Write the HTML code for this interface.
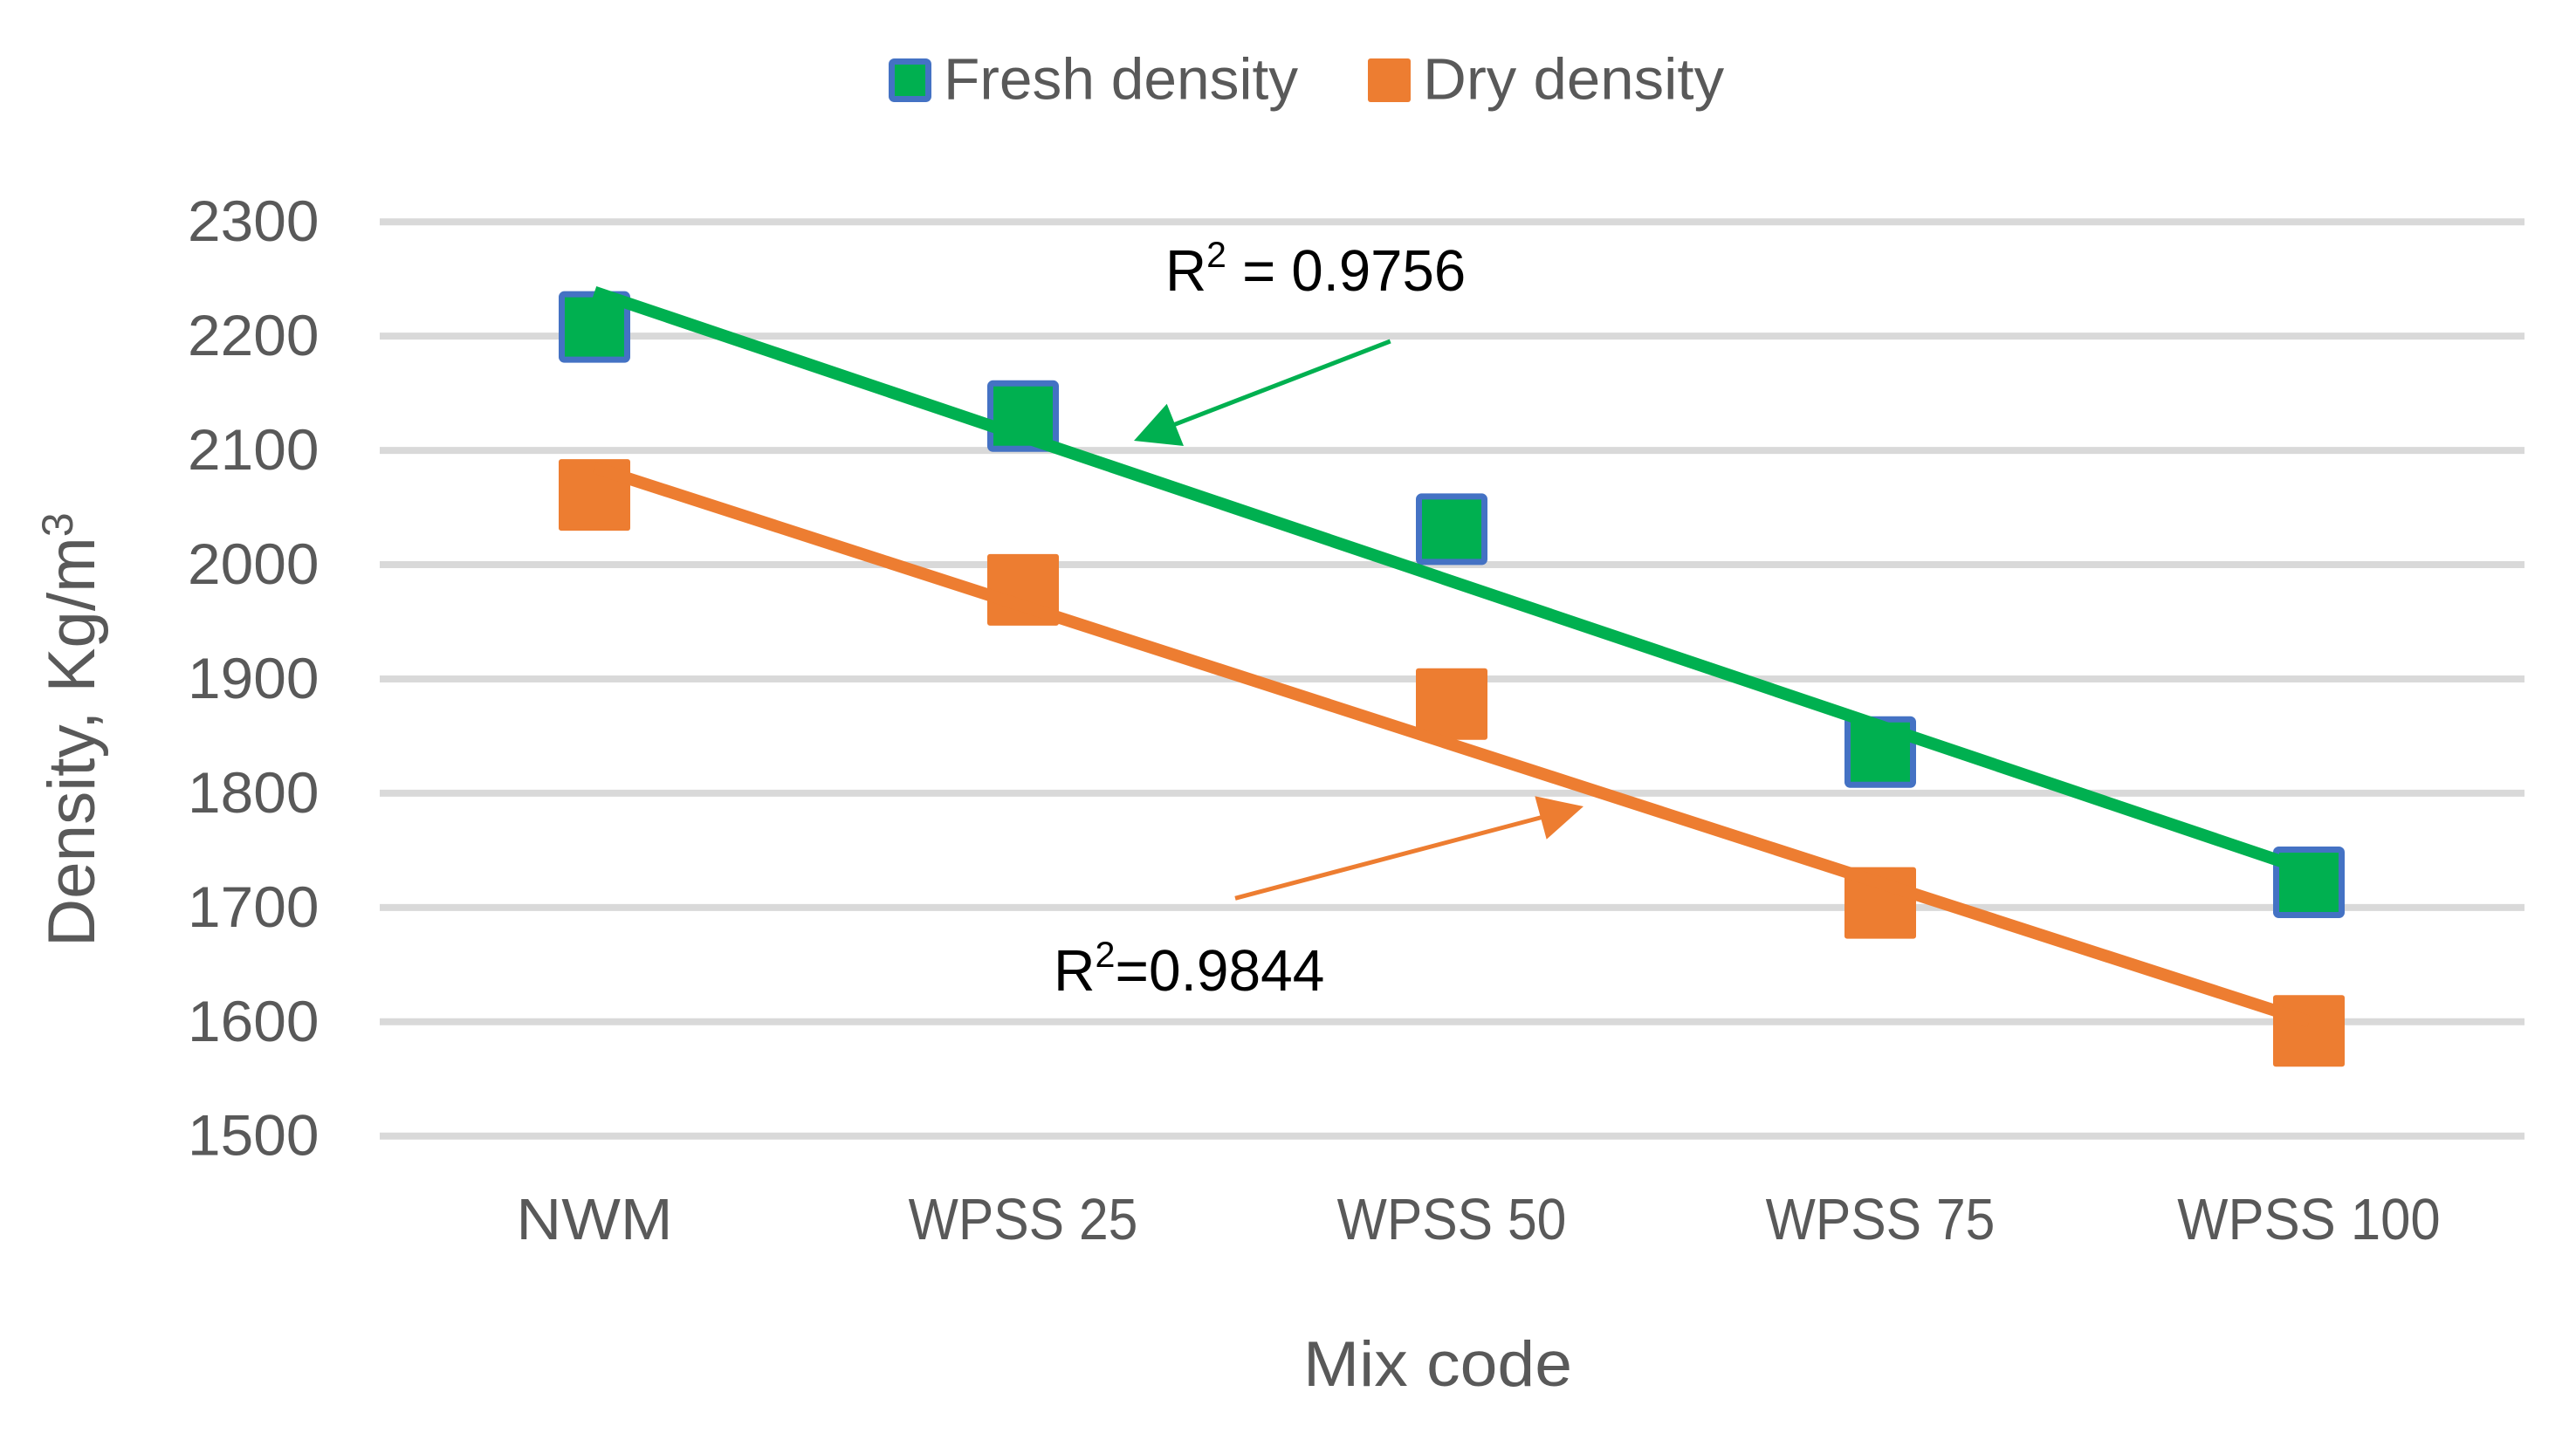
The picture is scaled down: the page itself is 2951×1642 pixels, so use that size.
<!DOCTYPE html>
<html lang="en">
<head>
<meta charset="utf-8">
<title>Density by mix code</title>
<style>
  html, body { margin: 0; padding: 0; background: #ffffff; }
  svg { display: block; }
  text { font-family: "Liberation Sans", sans-serif; }
</style>
</head>
<body>
<svg id="chart" xmlns="http://www.w3.org/2000/svg" width="2951" height="1642" viewBox="0 0 2951 1642">
  <rect x="0" y="0" width="2951" height="1642" fill="#ffffff"/>
  <g id="grid"></g>
  <g id="yticks"></g>
  <g id="xticks"></g>
  <g id="marks"></g>

  <g>
    <g>
      <rect x="1021.5" y="70.5" width="42" height="43" rx="3" fill="#00B050" stroke="#4472C4" stroke-width="7"/>
      <text transform="translate(1081 113.5) scale(1.01 1)" font-size="67" fill="#595959">Fresh density</text>
    </g>
    <g>
      <rect x="1567" y="67" width="49" height="50" rx="3" fill="#ED7D31"/>
      <text transform="translate(1630 113.5) scale(1.03 1)" font-size="67" fill="#595959">Dry density</text>
    </g>
  </g>

  <text transform="translate(108 1085) rotate(-90) scale(1.005 1)" font-size="76" fill="#595959">Density, Kg/m<tspan font-size="50" dy="-25">3</tspan></text>
  <text transform="translate(1647 1588) scale(1.055 1)" text-anchor="middle" font-size="73" fill="#595959">Mix code</text>

  <g>
    <text transform="translate(1335 333) scale(0.975 1)" font-size="67" fill="#000000">R<tspan font-size="42" dy="-27">2</tspan><tspan dy="27"> = 0.9756</tspan></text>
    <line x1="1592.7" y1="391" x2="1340" y2="488.6" stroke="#00B050" stroke-width="5"/>
    <polygon points="1299,505 1336.7,462.7 1356,511" fill="#00B050"/>
  </g>
  <g>
    <text transform="translate(1207 1135) scale(0.983 1)" font-size="67" fill="#000000">R<tspan font-size="42" dy="-27">2</tspan><tspan dy="27">=0.9844</tspan></text>
    <line x1="1415" y1="1029.3" x2="1770" y2="935.5" stroke="#ED7D31" stroke-width="5"/>
    <polygon points="1814,924 1758.3,912.3 1771.7,961.7" fill="#ED7D31"/>
  </g>
</svg>

<script>
const categories = ['NWM', 'WPSS 25', 'WPSS 50', 'WPSS 75', 'WPSS 100'];
const freshDensity = [2208, 2130, 2031, 1836, 1722];
const dryDensity = [2061, 1978, 1878, 1704, 1592];
const yTickLabels = [1500, 1600, 1700, 1800, 1900, 2000, 2100, 2200, 2300];

const SVG_NS = 'http://www.w3.org/2000/svg';
const yMin = 1500, yMax = 2300;
const yPixBottom = 1301.7, yPixTop = 254.2;
const xPixFirst = 681, xStep = 491;
const plotLeft = 435, plotRight = 2892;

function yScale(v) {
  return yPixBottom + (v - yMin) * (yPixTop - yPixBottom) / (yMax - yMin);
}
function xScale(i) {
  return xPixFirst + i * xStep;
}
function make(tag, attrs, parent) {
  const el = document.createElementNS(SVG_NS, tag);
  Object.keys(attrs).forEach(function (k) { el.setAttribute(k, attrs[k]); });
  parent.appendChild(el);
  return el;
}
function linearFit(values) {
  const n = values.length;
  let sx = 0, sy = 0, sxy = 0, sxx = 0;
  values.forEach(function (v, i) { sx += i; sy += v; sxy += i * v; sxx += i * i; });
  const slope = (n * sxy - sx * sy) / (n * sxx - sx * sx);
  const intercept = (sy - slope * sx) / n;
  return function (i) { return intercept + slope * i; };
}

const gridGroup = document.getElementById('grid');
const yTickGroup = document.getElementById('yticks');
yTickLabels.forEach(function (t) {
  const y = yScale(t);
  const line = make('line', { x1: plotLeft, x2: plotRight, y1: y, y2: y, stroke: '#D9D9D9', 'stroke-width': 8 }, gridGroup);
  
  
  const label = make('text', { transform: 'translate(365.5 ' + (y + 22) + ') scale(1.025 1)', 'text-anchor': 'end', 'font-size': 66, fill: '#595959' }, yTickGroup);
  
  
  label.textContent = t;
});

const xTickGroup = document.getElementById('xticks');
categories.forEach(function (c, i) {
  const sx = c === 'NWM' ? 1.07 : (c.length > 7 ? 0.92 : 0.905);
  const label = make('text', { transform: 'translate(' + xScale(i) + ' 1420) scale(' + sx + ' 1)', 'text-anchor': 'middle', 'font-size': 67, fill: '#595959' }, xTickGroup);
  
  
  label.textContent = c;
});

const marksGroup = document.getElementById('marks');
function drawSeries(values, key, fill, border) {
  const group = make('g', {}, marksGroup);
  
  
  values.forEach(function (v, i) {
    const cx = xScale(i), cy = yScale(v);
    const inset = border ? 3.5 : 0;
    const attrs = { x: cx - 41 + inset, y: cy - 41 + inset, width: 82 - 2 * inset, height: 82 - 2 * inset, rx: 3, fill: fill };
    if (border) { attrs.stroke = border; attrs['stroke-width'] = 7; }
    const marker = make('rect', attrs, group);
    
    
  });
  const fit = linearFit(values);
  const last = values.length - 1;
  const trend = make('line', { x1: xScale(0), y1: yScale(fit(0)), x2: xScale(last), y2: yScale(fit(last)), stroke: fill, 'stroke-width': 14 }, group);
  
  
}
drawSeries(freshDensity, 'fresh-density', '#00B050', '#4472C4');
drawSeries(dryDensity, 'dry-density', '#ED7D31', null);
</script>
</body>
</html>
